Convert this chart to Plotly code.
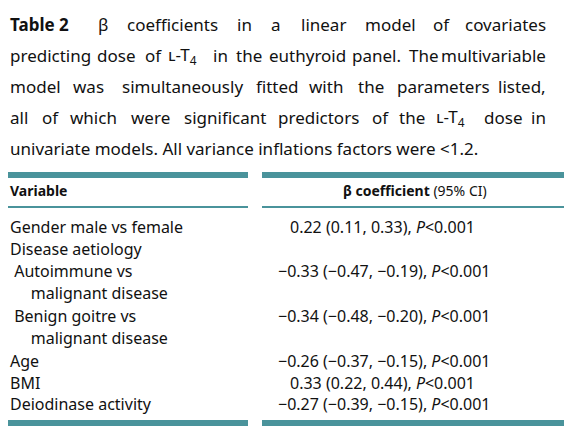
import plotly.graph_objects as go

caption_lines = [
    "<b>Table 2</b>  β coefficients in a linear model of covariates",
    "predicting dose of ʟ-T<sub>4</sub> in the euthyroid panel. The multivariable",
    "model was simultaneously fitted with the parameters listed,",
    "all of which were significant predictors of the ʟ-T<sub>4</sub> dose in",
    "univariate models. All variance inflations factors were <1.2.",
]
variables = ["Gender male vs female", "Disease aetiology", " Autoimmune vs",
             "     malignant disease", " Benign goitre vs", "     malignant disease",
             "Age", "BMI", "Deiodinase activity"]
coefficients = ["0.22 (0.11, 0.33), <i>P</i><0.001", "", "−0.33 (−0.47, −0.19), <i>P</i><0.001", "",
                "−0.34 (−0.48, −0.20), <i>P</i><0.001", "", "−0.26 (−0.37, −0.15), <i>P</i><0.001",
                "0.33 (0.22, 0.44), <i>P</i><0.001", "−0.27 (−0.39, −0.15), <i>P</i><0.001"]
row_y = [227, 249, 271, 293, 316, 338, 361, 383, 404]

OX, OY = 8, 8  # page body margin compensation
teal = "#4a939b"
font = "Noto Sans"
FS = 17

import re
def est_width(word, size, bold=False):
    w = 0.0
    plain = re.sub(r"<sub>(.*?)</sub>", r"\1", re.sub(r"</?b>", "", word))
    for ch in plain:
        if ch in "iljtf.,'!:;I":
            w += 0.28
        elif ch in "r":
            w += 0.40
        elif ch in "mwMW":
            w += 0.85
        elif ch.isupper():
            w += 0.62
        elif ch == "-":
            w += 0.32
        else:
            w += 0.56
    return w * size * (1.08 if bold else 1.0)

fig = go.Figure()
ann = []
cap_y = [24, 55, 86, 117, 148]
for i, (t, y) in enumerate(zip(caption_lines, cap_y)):
    if i == len(caption_lines) - 1:
        ann.append(dict(x=8 - OX, y=y - OY, text=t, showarrow=False, xanchor="left", yanchor="middle",
                        font=dict(family=font, size=FS, color="#111")))
        continue
    words = t.replace("<b>Table 2</b>", "<b>Table&nbsp;2</b>").split()
    widths = [est_width(w.replace("&nbsp;", " "), FS, w.startswith("<b>")) for w in words]
    gap = (548 - 8 - sum(widths)) / (len(words) - 1)
    x = 8.0
    for j, (w, wd) in enumerate(zip(words, widths)):
        if j == len(words) - 1:
            ann.append(dict(x=548 - OX, y=y - OY, text=w, showarrow=False, xanchor="right",
                            yanchor="middle", font=dict(family=font, size=FS, color="#111")))
        else:
            ann.append(dict(x=x - OX, y=y - OY, text=w, showarrow=False, xanchor="left",
                            yanchor="middle", font=dict(family=font, size=FS, color="#111")))
        x += wd + gap
ann.append(dict(x=8 - OX, y=190 - OY, text="<b>Variable</b>", showarrow=False, xanchor="left",
                yanchor="middle", font=dict(family=font, size=14, color="#111")))
ann.append(dict(x=415 - OX, y=190 - OY, text="<b>β coefficient</b> (95% CI)", showarrow=False,
                xanchor="center", yanchor="middle", font=dict(family=font, size=14, color="#111")))
for v, c, y in zip(variables, coefficients, row_y):
    ann.append(dict(x=8 - OX, y=y - OY, text=v.replace(" ", "&nbsp;"), showarrow=False, xanchor="left",
                    yanchor="middle", font=dict(family=font, size=16, color="#111")))
    if c:
        x = 276 if c.startswith("−") else 288
        ann.append(dict(x=x - OX, y=y - OY, text=c, showarrow=False, xanchor="left", yanchor="middle",
                        font=dict(family=font, size=16, color="#111")))
shapes = []
for x0, x1 in [(8, 248), (262, 566)]:
    for y0, y1 in [(172, 178), (206, 208), (420, 426)]:
        shapes.append(dict(type="rect", x0=x0 - OX, x1=x1 - OX, y0=y0 - OY, y1=y1 - OY,
                           fillcolor=teal, line_width=0))

fig.update_layout(width=572, height=440, margin=dict(l=0, r=0, t=0, b=0),
                  paper_bgcolor="white", plot_bgcolor="white",
                  xaxis=dict(range=[0, 572], visible=False, fixedrange=True),
                  yaxis=dict(range=[440, 0], visible=False, fixedrange=True),
                  annotations=ann, shapes=shapes, showlegend=False)
fig.write_html("out.html")
